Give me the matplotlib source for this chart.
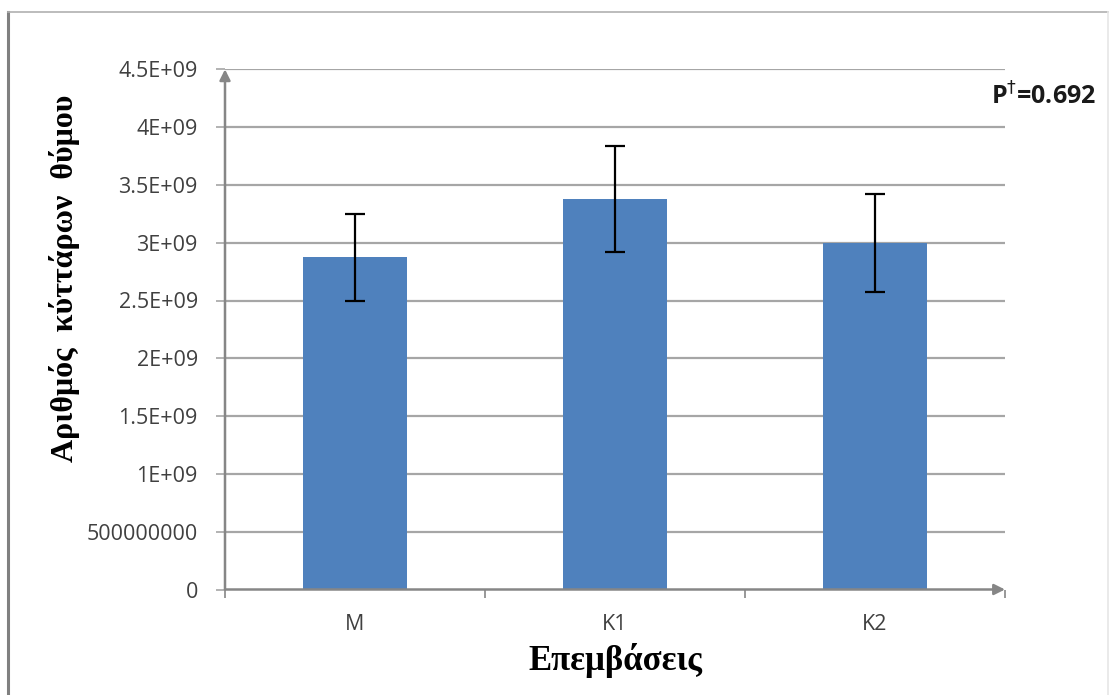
import matplotlib
matplotlib.use('Agg')
import matplotlib.pyplot as plt
from matplotlib.lines import Line2D

# data
groups = ['M', 'K1', 'K2']
means = [2.875e9, 3.38e9, 3.0e9]
errs = [0.375e9, 0.46e9, 0.423e9]
ytick_vals = [0, 0.5e9, 1.0e9, 1.5e9, 2.0e9, 2.5e9, 3.0e9, 3.5e9, 4.0e9, 4.5e9]
ytick_labels = ['0', '500000000', '1E+09', '1.5E+09', '2E+09', '2.5E+09',
                '3E+09', '3.5E+09', '4E+09', '4.5E+09']
p_text = 'P$^{\\dagger}$=0.692'

bar_color = '#4F81BD'
grid_color = '#A6A6A6'
axis_color = '#868686'
label_color = '#404040'

fig = plt.figure(figsize=(11.1, 6.95), dpi=100)
W, H = 1110, 695
ax = fig.add_axes([225 / W, 1 - 589.5 / H, (1005 - 225) / W, (589.5 - 69.3) / H])

x = list(range(len(groups)))
ax.bar(x, means, width=0.4, color=bar_color, zorder=3)
ax.errorbar(x, means, yerr=errs, fmt='none', ecolor='black', elinewidth=1.6,
            capsize=7, capthick=1.6, zorder=4)

ax.set_xlim(-0.5, 2.5)
ax.set_ylim(0, 4.5e9)

# horizontal gridlines
for v in ytick_vals[1:]:
    ax.axhline(v, color=grid_color, lw=1.6, zorder=1)

for s in ax.spines.values():
    s.set_visible(False)

# axis lines with arrow heads
ax.annotate('', xy=(2.5, 0), xytext=(-0.5, 0),
            arrowprops=dict(arrowstyle='-|>', color=axis_color, lw=1.8,
                            mutation_scale=16, shrinkA=0, shrinkB=0), zorder=5)
ax.annotate('', xy=(-0.5, 4.5e9), xytext=(-0.5, 0),
            arrowprops=dict(arrowstyle='-|>', color=axis_color, lw=1.8,
                            mutation_scale=16, shrinkA=0, shrinkB=0), zorder=5)

ax.set_yticks(ytick_vals)
ax.set_yticklabels(ytick_labels, fontfamily='Open Sans', fontsize=15.5, color=label_color)
ax.tick_params(axis='y', length=6.5, width=1.2, color=grid_color, pad=13)

ax.set_xticks(x)
ax.set_xticklabels(groups, fontfamily='Open Sans', fontsize=15.5, color=label_color)
ax.set_xticks([-0.5, 0.5, 1.5, 2.5], minor=True)
ax.tick_params(axis='x', which='major', length=0, pad=18)
ax.tick_params(axis='x', which='minor', length=6, width=1.2, color=axis_color, direction='out')

# axis titles
fig.text(65 / W, 1 - 278 / H, 'Αριθμός  κύττάρων  θύμου', rotation=90,
         ha='center', va='center', fontfamily='Liberation Serif',
         fontweight='bold', fontsize=23)
fig.text(615 / W, 1 - 660 / H, 'Επεμβάσεις', ha='center', va='center',
         fontfamily='Liberation Serif', fontweight='bold', fontsize=25)

fig.text(1043 / W, 1 - 97 / H, p_text, ha='center', va='center',
         fontfamily='Open Sans', fontweight='bold', fontsize=18, color='#1a1a1a')

# outer frame of the picture
fig.add_artist(Line2D([8 / W, 8 / W], [0, 1 - 12 / H], transform=fig.transFigure,
                      color='#808080', lw=2.2))
fig.add_artist(Line2D([8 / W, 1108 / W], [1 - 12 / H, 1 - 12 / H], transform=fig.transFigure,
                      color='#B0B0B0', lw=1.2))
fig.add_artist(Line2D([1108 / W, 1108 / W], [0, 1 - 12 / H], transform=fig.transFigure,
                      color='#E6E6E6', lw=1.2))

fig.savefig('out.png', dpi=100)
